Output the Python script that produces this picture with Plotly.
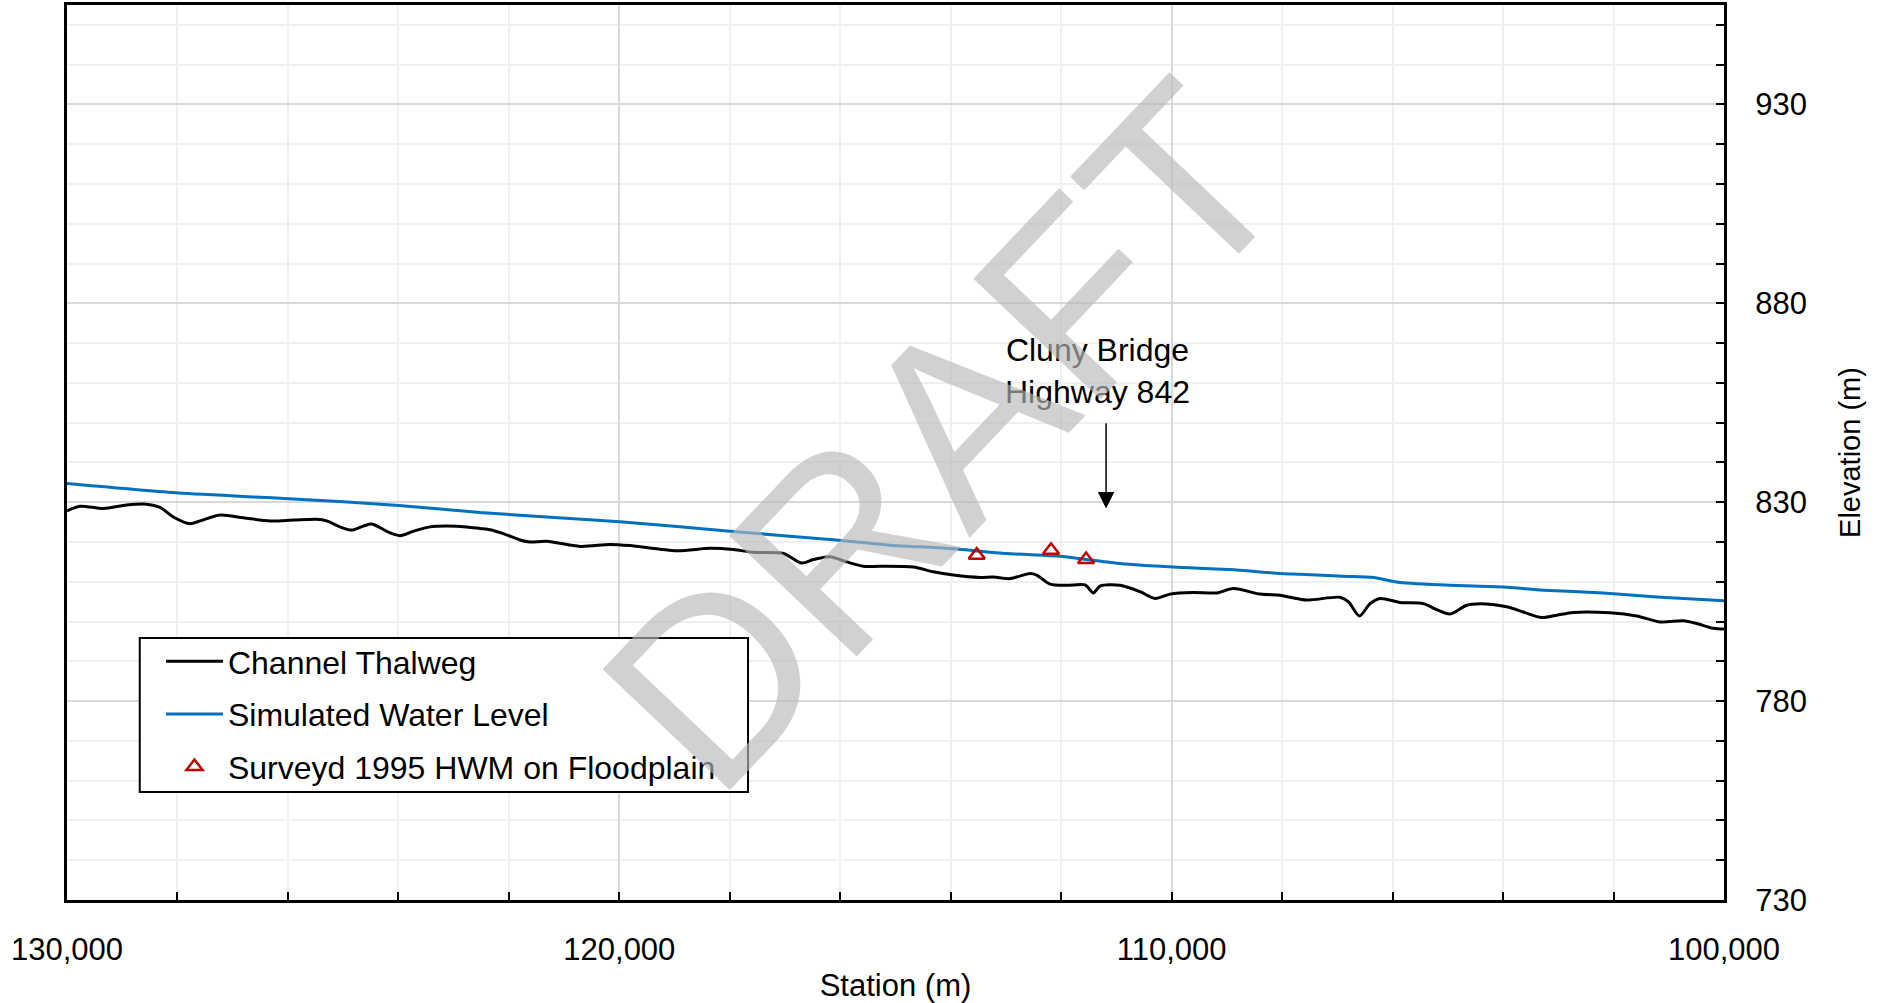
import plotly.graph_objects as go

# ---- data ----
thalweg_station = [130000, 129765, 129342, 128920, 128557, 128316, 128075, 127773, 127592, 127230,
                   126808, 126325, 125903, 125481, 125298, 125057, 124845, 124635, 124483, 124333,
                   124152, 123970, 123730, 123427, 123125, 122763, 122520, 122341, 122100, 121798,
                   121617, 121315, 120711, 120168, 119806, 118960, 118358, 117936, 117574, 117030,
                   116698, 116487, 116185, 115883, 115582, 115280, 114677, 114315, 113953, 113470,
                   113229, 112926, 112564, 112443, 112202, 111901, 111569, 111418, 111297, 110934,
                   110572, 110301, 110029, 109607, 109184, 108882, 108399, 108037, 107856, 107554,
                   106951, 106801, 106601, 106408, 106227, 105865, 105443, 105201, 104960, 104658,
                   104417, 103934, 103632, 103300, 103028, 102727, 102063, 101580, 101158, 100736,
                   100495, 100193, 100000]
thalweg_elev = [827.8, 829.0, 828.4, 829.3, 829.5, 828.7, 826.3, 824.6, 825.3, 826.8,
                826.1, 825.3, 825.5, 825.7, 825.3, 823.8, 823.0, 824.0, 824.5, 823.6,
                822.3, 821.6, 822.7, 823.8, 824.0, 823.8, 823.4, 823.1, 822.1, 820.5,
                820.0, 820.2, 818.9, 819.4, 819.1, 817.8, 818.4, 818.1, 817.4, 817.1,
                814.7, 815.6, 816.3, 815.0, 813.9, 813.9, 813.7, 812.5, 811.7, 811.1,
                811.2, 810.8, 812.1, 811.7, 809.4, 809.1, 809.2, 807.2, 808.9, 809.1,
                807.5, 805.8, 806.9, 807.3, 807.2, 808.3, 806.9, 806.6, 806.1, 805.4,
                806.1, 805.0, 801.4, 804.5, 805.8, 804.8, 804.5, 803.0, 801.9, 804.1,
                804.5, 803.7, 802.4, 801.0, 801.6, 802.3, 802.2, 801.4, 799.9, 800.2,
                799.5, 798.3, 798.1]

wl_station = [130000, 127972, 125980, 123989, 122522, 119988, 117996, 116245, 115099, 114072,
              112986, 112021, 111538, 110934, 109969, 108943, 108037, 107675, 106891, 106348,
              105865, 104960, 103994, 103270, 102184, 101218, 100000]
wl_elev = [834.7, 832.3, 830.9, 829.2, 827.4, 825.1, 822.7, 820.7, 819.2, 818.4,
           817.1, 816.4, 815.6, 814.6, 813.7, 813.1, 812.1, 811.9, 811.4, 811.1,
           809.8, 809.1, 808.7, 807.9, 807.2, 806.2, 805.2]

hwm_station = [113529, 112184, 111550]
hwm_elev = [816.7, 817.9, 815.6]

bridge_station = 111188
bridge_label = "Cluny Bridge<br>Highway 842"

FONT = "Liberation Sans, Arial, sans-serif"

fig = go.Figure()
fig.add_trace(go.Scatter(x=thalweg_station, y=thalweg_elev, mode="lines", name="Channel Thalweg",
                         line=dict(color="black", width=3, shape="spline", smoothing=0.8),
                         legendgroup="a"))
fig.add_trace(go.Scatter(x=wl_station, y=wl_elev, mode="lines", name="Simulated Water Level",
                         line=dict(color="#0070c0", width=3, shape="spline", smoothing=0.6),
                         legendgroup="b"))
fig.add_trace(go.Scatter(x=hwm_station, y=hwm_elev, mode="markers", name="Surveyd 1995 HWM on Floodplain",
                         marker=dict(symbol="triangle-up-open", size=14, color="#c00000",
                                     line=dict(color="#c00000", width=2.5)),
                         legendgroup="c"))

# legend box
fig.add_shape(type="rect", xref="paper", yref="paper", x0=0.0439, x1=0.411, y0=0.1207, y1=0.2927,
              line=dict(color="black", width=2), fillcolor="white", layer="above")

# arrow
fig.add_annotation(x=bridge_station, y=828.4, ax=bridge_station, ay=850.2, xref="x", yref="y",
                   axref="x", ayref="y", text="", showarrow=True, arrowhead=2, arrowsize=2.2,
                   arrowwidth=1.5, arrowcolor="black")
fig.add_annotation(x=111351, y=863.0, xref="x", yref="y", text=bridge_label, showarrow=False,
                   font=dict(family=FONT, size=32, color="black"), align="center",
                   xanchor="center", yanchor="middle")
# watermark
fig.add_annotation(x=0.529, y=0.518, xref="paper", yref="paper", text="DRAFT", showarrow=False,
                   textangle=-46.5, font=dict(family=FONT, size=255, color="rgba(185,185,185,0.65)"),
                   xanchor="center", yanchor="middle")

fig.update_layout(
    width=1888, height=1003,
    margin=dict(l=67, r=164, t=5, b=103),
    paper_bgcolor="white", plot_bgcolor="white",
    font=dict(family=FONT, size=31, color="black"),
    showlegend=True,
    legend=dict(x=0.0567, y=0.2972, xanchor="left", yanchor="top",
                borderwidth=0, bgcolor="rgba(0,0,0,0)",
                font=dict(family=FONT, size=32), tracegroupgap=8, itemwidth=57),
    xaxis=dict(range=[130000, 100000], dtick=10000, tick0=100000, tickformat=",d",
               showline=True, linecolor="black", linewidth=3, mirror=True,
               ticks="inside", ticklen=8, tickwidth=2, tickcolor="black",
               showgrid=True, gridcolor="#d9d9d9", gridwidth=1.5, zeroline=False,
               ticklabelstandoff=20,
               minor=dict(dtick=2000, tick0=100000, ticks="inside", ticklen=8, tickwidth=2,
                          tickcolor="black", showgrid=True, gridcolor="#f0f0f0", gridwidth=1.5),
               title=dict(text="Station (m)", font=dict(size=31), standoff=14),
               automargin=False),
    yaxis=dict(range=[730, 955], dtick=50, tick0=730, side="right",
               showline=True, linecolor="black", linewidth=3, mirror=True,
               ticks="inside", ticklen=8, tickwidth=2, tickcolor="black",
               showgrid=True, gridcolor="#d9d9d9", gridwidth=1.5, zeroline=False,
               ticklabelstandoff=22,
               minor=dict(dtick=10, tick0=730, ticks="inside", ticklen=8, tickwidth=2,
                          tickcolor="black", showgrid=True, gridcolor="#f0f0f0", gridwidth=1.5),
               title=dict(text="Elevation (m)", font=dict(size=29), standoff=34),
               automargin=False),
)

fig.write_html("out.html")
